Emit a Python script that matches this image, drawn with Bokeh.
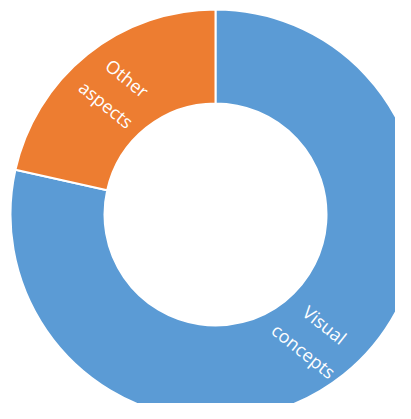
import numpy as np
from bokeh.plotting import figure
from bokeh.models import ColumnDataSource, Range1d
from bokeh.core.properties import value
from bokeh.embed import file_html
from bokeh.resources import INLINE

categories = ["Visual\nconcepts", "Other\naspects"]
values = [78.5, 21.5]
colors = ["#5B9BD5", "#ED7D31"]

W, H = 395, 403
cx, cy = 215, H - 214
r_out, r_in = 205, 111

vals = np.array(values, dtype=float)
frac = vals / vals.sum()
# orange (last) starts at 12 o'clock going counter-clockwise, then blue
order = [1, 0]
start = np.pi / 2
starts, ends = [0.0] * len(vals), [0.0] * len(vals)
for i in order:
    starts[i] = start
    ends[i] = start + frac[i] * 2 * np.pi
    start = ends[i]

mids = [(s + e) / 2 for s, e in zip(starts, ends)]
r_lab = (r_in + r_out) / 2
lx = [cx + r_lab * np.cos(m) for m in mids]
ly = [cy + r_lab * np.sin(m) for m in mids]
angles = []
for m in mids:
    a = np.pi / 2 - m
    while a <= -np.pi / 2:
        a += np.pi
    while a > np.pi / 2:
        a -= np.pi
    angles.append(a)

src = ColumnDataSource(dict(start=starts, end=ends, color=colors,
                            lx=lx, ly=ly, text=categories, angle=angles))

p = figure(width=W, height=H, output_backend="svg", toolbar_location=None,
           x_range=Range1d(0, W), y_range=Range1d(0, H), min_border=0)
p.axis.visible = False
p.grid.visible = False
p.outline_line_color = None

p.annular_wedge(x=cx, y=cy, inner_radius=r_in, outer_radius=r_out,
                start_angle="start", end_angle="end", color="color",
                line_color="white", line_width=2, direction="anticlock", source=src)
p.text(x="lx", y="ly", text="text", angle="angle", source=src,
       text_color="white", text_font=value("Open Sans"), text_font_size="18px",
       text_align="center", text_baseline="middle", text_line_height=1.4)

open("out.html", "w").write(file_html(p, INLINE))
